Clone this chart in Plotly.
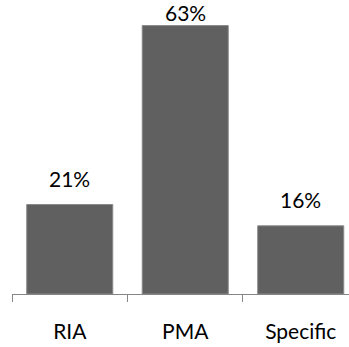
import plotly.graph_objects as go

categories = ["RIA", "PMA", "Specific"]
shares = [21, 63, 16]  # percent
labels = ["21%", "63%", "16%"]

BAR_COLOR = "#606060"
AXIS_COLOR = "#868686"
FONT = dict(family="Lato, 'Open Sans', sans-serif", size=21, color="#000000")

y_top = 69
fig = go.Figure(
    go.Bar(
        x=categories,
        y=shares,
        marker=dict(color=BAR_COLOR, line=dict(color="#8a8a8a", width=1)),
        hoverinfo="skip",
    )
)

# value labels above each bar; the tallest one hugs its bar so it stays in view
for cat, val, txt in zip(categories, shares, labels):
    shift = 12 if val < 50 else -1
    fig.add_annotation(
        x=cat, y=val, text=txt, showarrow=False,
        yanchor="bottom", yshift=shift, font=FONT,
    )

fig.update_layout(
    width=349, height=347,
    margin=dict(l=12, r=0, t=0, b=53),
    paper_bgcolor="white", plot_bgcolor="white",
    bargap=0.255,
    showlegend=False,
    font=FONT,
)
fig.update_xaxes(
    range=[-0.5, 2.418],
    showline=True, linecolor=AXIS_COLOR, linewidth=1,
    ticks="outside", tickson="boundaries", ticklen=7, tickcolor=AXIS_COLOR,
    tickfont=FONT, ticklabelstandoff=19,
    showgrid=False, zeroline=False,
)
fig.update_yaxes(range=[0, y_top], visible=False, showgrid=False, zeroline=False)

fig.write_html("out.html")
